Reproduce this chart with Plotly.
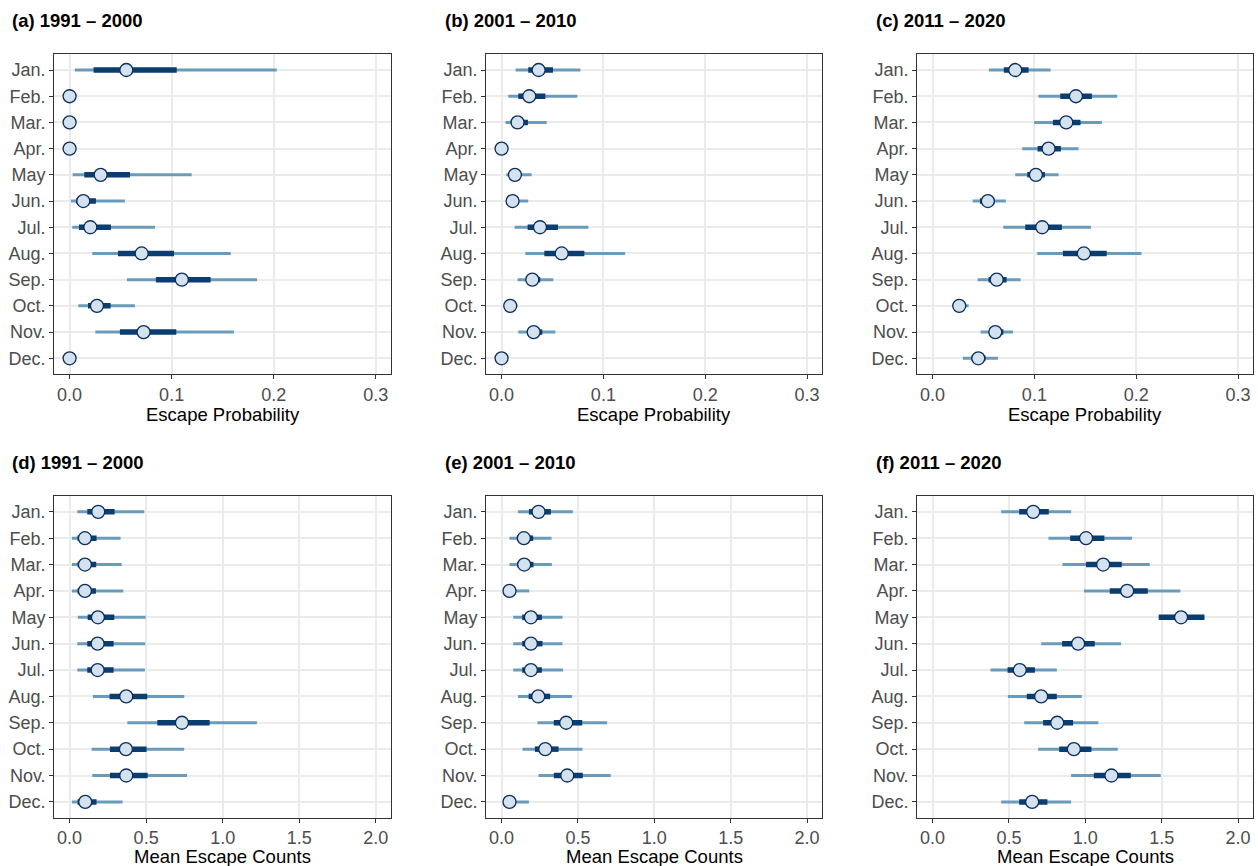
import plotly.graph_objects as go

months = ["Jan.", "Feb.", "Mar.", "Apr.", "May", "Jun.", "Jul.", "Aug.", "Sep.", "Oct.", "Nov.", "Dec."]

# ---- Escape probability ----
a_point = [0.0556, 0.0, 0.0, 0.0, 0.0304, 0.0134, 0.0203, 0.0706, 0.110, 0.0268, 0.0725, 0.0]
a_in_lo = [0.0235, 0.0, 0.0, 0.0, 0.0144, 0.0065, 0.0092, 0.0474, 0.0846, 0.018, 0.0493, 0.0]
a_in_hi = [0.105, 0.0, 0.0, 0.0, 0.0592, 0.0258, 0.0405, 0.1023, 0.1382, 0.0402, 0.1046, 0.0]
a_out_lo = [0.0052, 0.0, 0.0, 0.0, 0.003, 0.0013, 0.0026, 0.0222, 0.0562, 0.0085, 0.0252, 0.0]
a_out_hi = [0.203, 0.0, 0.0, 0.0, 0.1196, 0.0542, 0.0837, 0.158, 0.1837, 0.064, 0.161, 0.0]

b_point = [0.0364, 0.0272, 0.0157, 0.0, 0.0131, 0.0108, 0.0377, 0.059, 0.0302, 0.0085, 0.0315, 0.0]
b_in_lo = [0.0262, 0.0164, 0.0092, 0.0, 0.008, 0.006, 0.0256, 0.042, 0.0243, 0.005, 0.025, 0.0]
b_in_hi = [0.0505, 0.043, 0.0259, 0.0, 0.018, 0.016, 0.0554, 0.0813, 0.038, 0.012, 0.040, 0.0]
b_out_lo = [0.0138, 0.0066, 0.0039, 0.0, 0.0046, 0.0046, 0.0128, 0.0233, 0.0157, 0.0026, 0.0164, 0.0]
b_out_hi = [0.0774, 0.0744, 0.0443, 0.0, 0.0295, 0.0262, 0.0852, 0.1213, 0.0508, 0.0157, 0.0528, 0.0]

c_point = [0.0812, 0.1408, 0.1313, 0.1139, 0.1015, 0.0543, 0.1077, 0.1486, 0.063, 0.0262, 0.0616, 0.0449]
c_in_lo = [0.070, 0.1254, 0.1182, 0.1031, 0.093, 0.0465, 0.091, 0.128, 0.055, 0.022, 0.056, 0.0383]
c_in_hi = [0.0943, 0.1565, 0.1453, 0.126, 0.1103, 0.061, 0.127, 0.171, 0.0727, 0.032, 0.0695, 0.052]
c_out_lo = [0.0553, 0.104, 0.0998, 0.088, 0.0812, 0.0393, 0.0694, 0.1028, 0.0442, 0.0193, 0.0472, 0.0298]
c_out_hi = [0.1159, 0.1813, 0.1663, 0.1434, 0.1237, 0.072, 0.1555, 0.2052, 0.0865, 0.0354, 0.079, 0.0642]

# ---- Mean escape counts ----
d_point = [0.187, 0.100, 0.100, 0.100, 0.185, 0.183, 0.183, 0.370, 0.734, 0.368, 0.370, 0.102]
d_in_lo = [0.1155, 0.052, 0.052, 0.052, 0.118, 0.1155, 0.1155, 0.261, 0.573, 0.2636, 0.2636, 0.052]
d_in_hi = [0.294, 0.176, 0.174, 0.172, 0.292, 0.2876, 0.2876, 0.5076, 0.915, 0.503, 0.51, 0.176]
d_out_lo = [0.050, 0.015, 0.015, 0.015, 0.054, 0.050, 0.050, 0.1525, 0.377, 0.144, 0.148, 0.015]
d_out_hi = [0.488, 0.333, 0.340, 0.351, 0.497, 0.494, 0.492, 0.7495, 1.224, 0.749, 0.767, 0.346]

e_point = [0.242, 0.146, 0.148, 0.052, 0.192, 0.192, 0.192, 0.240, 0.423, 0.286, 0.430, 0.052]
e_in_lo = [0.179, 0.100, 0.1025, 0.025, 0.135, 0.135, 0.135, 0.177, 0.342, 0.218, 0.342, 0.025]
e_in_hi = [0.323, 0.207, 0.209, 0.09, 0.264, 0.268, 0.264, 0.318, 0.528, 0.373, 0.532, 0.09]
e_out_lo = [0.107, 0.052, 0.052, 0.012, 0.076, 0.076, 0.076, 0.107, 0.2355, 0.137, 0.242, 0.012]
e_out_hi = [0.467, 0.327, 0.329, 0.181, 0.399, 0.399, 0.403, 0.462, 0.691, 0.530, 0.715, 0.179]

f_point = [0.659, 1.005, 1.117, 1.274, 1.627, 0.953, 0.571, 0.711, 0.816, 0.925, 1.171, 0.652]
f_in_lo = [0.567, 0.901, 1.005, 1.160, 1.481, 0.848, 0.491, 0.617, 0.724, 0.829, 1.056, 0.567]
f_in_hi = [0.761, 1.125, 1.239, 1.409, 1.780, 1.062, 0.670, 0.8135, 0.920, 1.040, 1.298, 0.752]
f_out_lo = [0.449, 0.759, 0.851, 0.992, 1.481, 0.711, 0.3795, 0.493, 0.600, 0.691, 0.907, 0.449]
f_out_hi = [0.907, 1.306, 1.422, 1.623, 1.780, 1.234, 0.8135, 0.977, 1.086, 1.213, 1.494, 0.907]

panels = [
    ("(a) 1991 \u2013 2000", "Escape Probability", a_point, a_in_lo, a_in_hi, a_out_lo, a_out_hi),
    ("(b) 2001 \u2013 2010", "Escape Probability", b_point, b_in_lo, b_in_hi, b_out_lo, b_out_hi),
    ("(c) 2011 \u2013 2020", "Escape Probability", c_point, c_in_lo, c_in_hi, c_out_lo, c_out_hi),
    ("(d) 1991 \u2013 2000", "Mean Escape Counts", d_point, d_in_lo, d_in_hi, d_out_lo, d_out_hi),
    ("(e) 2001 \u2013 2010", "Mean Escape Counts", e_point, e_in_lo, e_in_hi, e_out_lo, e_out_hi),
    ("(f) 2011 \u2013 2020", "Mean Escape Counts", f_point, f_in_lo, f_in_hi, f_out_lo, f_out_hi),
]

prob_ticks = [0.0, 0.1, 0.2, 0.3]
prob_ticktext = ["0.0", "0.1", "0.2", "0.3"]
count_ticks = [0.0, 0.5, 1.0, 1.5, 2.0]
count_ticktext = ["0.0", "0.5", "1.0", "1.5", "2.0"]

W, H = 1258, 866
FONT = "Liberation Sans, Arial, Helvetica, sans-serif"
OUTER_C = "#6A9BBA"
INNER_C = "#0A3D70"
FILL_C = "#D3E2EE"
EDGE_C = "#0B2D5B"

# panel boxes in pixels (left, right), (top, bottom)
col_px = [(54.3, 391.0), (486.3, 822.3), (917.3, 1253.3)]
row_px = [(54.3, 374.0), (496.0, 817.7)]
title_x_px = [10, 443, 874]
title_y_px = [20, 463]
xtitle_y_px = [414, 856]

fig = go.Figure()
yidx = list(range(1, 13))

for i, (title, xlab, pt, ilo, ihi, olo, ohi) in enumerate(panels):
    r, c = divmod(i, 3)
    n = i + 1
    xa = "x" if n == 1 else f"x{n}"
    ya = "y" if n == 1 else f"y{n}"

    def seg(lo, hi):
        xs, ys = [], []
        for k in range(12):
            xs += [lo[k], hi[k], None]
            ys += [yidx[k], yidx[k], None]
        return xs, ys

    ox, oy = seg(olo, ohi)
    fig.add_trace(go.Scatter(x=ox, y=oy, mode="lines", line=dict(color=OUTER_C, width=3),
                             xaxis=xa, yaxis=ya, showlegend=False, hoverinfo="skip"))
    ix, iy = seg(ilo, ihi)
    fig.add_trace(go.Scatter(x=ix, y=iy, mode="lines", line=dict(color=INNER_C, width=5.5),
                             xaxis=xa, yaxis=ya, showlegend=False, hoverinfo="skip"))
    fig.add_trace(go.Scatter(x=pt, y=yidx, mode="markers",
                             marker=dict(size=13, color=FILL_C, line=dict(color=EDGE_C, width=1.3)),
                             xaxis=xa, yaxis=ya, showlegend=False))

    x0, x1 = col_px[c]
    y0, y1 = row_px[r]
    if r == 0:
        rng = [-0.015, 0.315]; tv = prob_ticks; tt = prob_ticktext
    else:
        rng = [-0.1, 2.1]; tv = count_ticks; tt = count_ticktext
    axis_common = dict(showline=True, linecolor="#333333", linewidth=1.2, mirror=True,
                       ticks="outside", ticklen=4, tickcolor="#333333", tickwidth=1,
                       showgrid=True, gridcolor="#EBEBEB", gridwidth=1.5, zeroline=False,
                       tickfont=dict(family=FONT, size=18, color="#4D4D4D"))
    fig.layout[f"xaxis{'' if n == 1 else n}"] = dict(
        domain=[x0 / W, x1 / W], anchor=ya, range=rng, tickvals=tv, ticktext=tt, **axis_common)
    fig.layout[f"yaxis{'' if n == 1 else n}"] = dict(
        domain=[1 - y1 / H, 1 - y0 / H], anchor=xa, range=[12.6, 0.4],
        tickvals=yidx, ticktext=months, **axis_common)

    fig.add_annotation(text=f"<b>{title}</b>", xref="paper", yref="paper",
                       x=title_x_px[c] / W, y=1 - title_y_px[r] / H, xanchor="left", yanchor="middle",
                       showarrow=False, font=dict(family=FONT, size=18.5, color="black"))
    fig.add_annotation(text=xlab, xref="paper", yref="paper",
                       x=(x0 + x1) / 2 / W, y=1 - xtitle_y_px[r] / H, xanchor="center", yanchor="middle",
                       showarrow=False, font=dict(family=FONT, size=18.5, color="black"))

fig.update_layout(width=W, height=H, margin=dict(l=0, r=0, t=0, b=0),
                  paper_bgcolor="white", plot_bgcolor="white")

fig.write_html("out.html", config={"displayModeBar": False},
               post_script="document.body.style.margin='0px';document.body.style.padding='0px';")
